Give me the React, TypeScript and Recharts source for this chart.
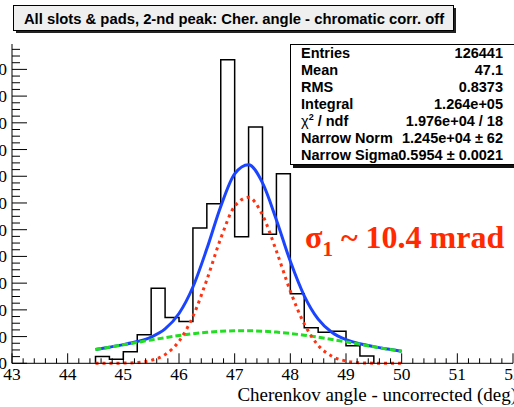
import { ComposedChart, Line, XAxis, YAxis } from "recharts";

// histogram bins (low edge, deg) and counts
const binLow = [44.5, 44.75, 45, 45.25, 45.5, 45.75, 46, 46.25, 46.5, 46.75, 47, 47.25, 47.5, 47.75, 48, 48.25, 48.5, 48.75, 49, 49.25];
const binCounts = [500, 300, 860, 2140, 5620, 3420, 3120, 10120, 11940, 22720, 9480, 17680, 9660, 14180, 5200, 2660, 2320, 2400, 1320, 540];
const binEnd = 49.5;

// fit curves
const fitX = [44.5, 44.75, 45, 45.25, 45.5, 45.75, 46, 46.25, 46.5, 46.75, 47, 47.25, 47.5, 47.75, 48, 48.25, 48.5, 48.75, 49, 49.25, 49.5, 49.75, 50];
const totalFit = [1032, 1208, 1399, 1628, 1963, 2569, 3725, 5709, 8567, 11743, 14183, 14857, 13504, 10735, 7633, 5054, 3302, 2303, 1774, 1466, 1250, 1068, 902];
const narrowFit = [0, 3, 14, 60, 215, 650, 1650, 3500, 6250, 9350, 11750, 12420, 11100, 8400, 5400, 2950, 1350, 520, 170, 45, 10, 2, 0];
const broadFit = [1032, 1205, 1385, 1568, 1748, 1919, 2075, 2209, 2317, 2393, 2433, 2437, 2404, 2335, 2233, 2104, 1952, 1783, 1604, 1421, 1240, 1066, 902];

const xMajor = [43, 44, 45, 46, 47, 48, 49, 50, 51, 52];
const yMajor = [0, 2000, 4000, 6000, 8000, 10000, 12000, 14000, 16000, 18000, 20000, 22000];
const yMax = 23900;

const statRows = [
  ["Entries", "126441"],
  ["Mean", "47.1"],
  ["RMS", "0.8373"],
  ["Integral", "1.264e+05"],
  ["chi2", "1.976e+04 / 18"],
  ["Narrow Norm", "1.245e+04 \u00b1 62"],
  ["Narrow Sigma", "0.5954 \u00b1 0.0021"],
];

const title = "All slots & pads, 2-nd peak: Cher. angle - chromatic corr. off";
const xTitle = "Cherenkov angle - uncorrected (deg)";

// minor ticks: 5 per degree, 4 per 2000
const xTicks: number[] = [];
xMajor.forEach((m, i) => {
  xTicks.push(m);
  if (i < xMajor.length - 1) for (let k = 1; k < 5; k++) xTicks.push(Math.round((m + k * 0.2) * 10) / 10);
});
const yTicks: number[] = [];
yMajor.forEach((m) => {
  for (let k = 0; k < 4; k++) {
    const v = m + k * 500;
    if (v < yMax) yTicks.push(v);
  }
});

const histData = [
  { x: binLow[0], y: 0 },
  ...binLow.map((x, i) => ({ x, y: binCounts[i] })),
  { x: binEnd, y: 0 },
];
const totalData = fitX.map((x, i) => ({ x, y: totalFit[i] }));
const narrowData = fitX.map((x, i) => ({ x, y: narrowFit[i] }));
const broadData = fitX.map((x, i) => ({ x, y: broadFit[i] }));

const SERIF = "'Liberation Serif', 'Times New Roman', serif";
const SANS = "'Liberation Sans', Arial, sans-serif";

const isMajorX = (v: number) => Math.abs(v - Math.round(v)) < 1e-6;
const isMajorY = (v: number) => v % 2000 === 0;

const BottomTick = ({ x, y, payload }: any) => {
  const major = isMajorX(payload.value);
  return (
    <g>
      <line x1={x} x2={x} y1={y} y2={y - (major ? 10 : 5)} stroke="#000" />
      {major && (
        <text x={x} y={y + 17} textAnchor="middle" fontFamily={SERIF} fontSize={17.5} fill="#000">
          {payload.value}
        </text>
      )}
    </g>
  );
};

const TopTick = ({ x, y, payload }: any) => {
  const major = isMajorX(payload.value);
  return <line x1={x} x2={x} y1={y} y2={y + (major ? 10 : 5)} stroke="#000" />;
};

const LeftTick = ({ x, y, payload }: any) => {
  const major = isMajorY(payload.value);
  return (
    <g>
      <line x1={x} x2={x + (major ? 15 : 8)} y1={y} y2={y} stroke="#000" />
      {major && (
        <text x={x - 5} y={y + 6} textAnchor="end" fontFamily={SERIF} fontSize={17.5} fill="#000">
          {payload.value}
        </text>
      )}
    </g>
  );
};

const RightTick = ({ x, y, payload }: any) => {
  const major = isMajorY(payload.value);
  return <line x1={x} x2={x - (major ? 15 : 8)} y1={y} y2={y} stroke="#000" />;
};

export default function App() {
  return (
    <div style={{ position: "absolute", left: 0, top: 0, width: 514, height: 407, overflow: "hidden", background: "#fff" }}>
      <div style={{ position: "absolute", left: -60, top: 0 }}>
        <ComposedChart width={574} height={407} margin={{ top: 44, right: 1, bottom: 0, left: 0 }}>
          <XAxis
            dataKey="x"
            type="number"
            domain={[43, 52]}
            ticks={xTicks}
            interval={0}
            height={43.7}
            tickSize={0}
            tickMargin={0}
            tickLine={false}
            axisLine={{ stroke: "#000" }}
            tick={<BottomTick />}
            label={{ value: xTitle, position: "insideBottomRight", offset: 6, dx: 10, fontFamily: SERIF, fontSize: 19, fill: "#000" }}
          />
          <XAxis
            xAxisId="top"
            orientation="top"
            dataKey="x"
            type="number"
            domain={[43, 52]}
            ticks={xTicks}
            interval={0}
            height={0}
            tickSize={0}
            tickMargin={0}
            tickLine={false}
            axisLine={{ stroke: "#000" }}
            tick={<TopTick />}
          />
          <YAxis
            type="number"
            domain={[0, yMax]}
            ticks={yTicks}
            interval={0}
            width={72}
            tickSize={0}
            tickMargin={0}
            tickLine={false}
            axisLine={{ stroke: "#000" }}
            tick={<LeftTick />}
          />
          <YAxis
            yAxisId="right"
            orientation="right"
            type="number"
            domain={[0, yMax]}
            ticks={yTicks}
            interval={0}
            width={0}
            tickSize={0}
            tickMargin={0}
            tickLine={false}
            axisLine={{ stroke: "#000" }}
            tick={<RightTick />}
          />
          <Line data={histData} dataKey="y" type="stepAfter" stroke="#000" strokeWidth={1.5} dot={false} activeDot={false} isAnimationActive={false} />
          <Line data={totalData} dataKey="y" type="monotone" stroke="#1a44ff" strokeWidth={3} dot={false} activeDot={false} isAnimationActive={false} />
          <Line data={broadData} dataKey="y" type="monotone" stroke="#22dd22" strokeWidth={3} strokeDasharray="6 3" dot={false} activeDot={false} isAnimationActive={false} />
          <Line data={narrowData} dataKey="y" type="monotone" stroke="#ff3311" strokeWidth={3} strokeDasharray="3 4" dot={false} activeDot={false} isAnimationActive={false} />
        </ComposedChart>
      </div>
      <svg width={514} height={407} style={{ position: "absolute", left: 0, top: 0, pointerEvents: "none" }}>
        {/* title box */}
        <rect x={16} y={8} width={440} height={25} fill="#222" />
        <rect x={13.5} y={5.5} width={440} height={25} fill="#efefef" stroke="#000" />
        <text x={234} y={23.5} textAnchor="middle" fontFamily={SANS} fontWeight="bold" fontSize={14.8} fill="#000">
          {title}
        </text>
        {/* stats box */}
        <rect x={293} y={47} width={230} height={121} fill="#111" />
        <rect x={290.5} y={44.5} width={230} height={120} fill="#fff" stroke="#000" />
        {statRows.map(([k, v], i) => (
          <g key={k}>
            <text x={301} y={57.7 + i * 17} fontFamily={SANS} fontWeight="bold" fontSize={14.5} fill="#000">
              {k === "chi2" ? (
                <>
                  <tspan fontWeight="normal">{"\u03c7"}</tspan>
                  <tspan fontSize={9} dy={-6}>2</tspan>
                  <tspan dy={6}>{" / ndf"}</tspan>
                </>
              ) : (
                k
              )}
            </text>
            <text x={503} y={57.7 + i * 17} textAnchor="end" fontFamily={SANS} fontWeight="bold" fontSize={14.5} fill="#000">
              {v}
            </text>
          </g>
        ))}
        {/* annotation */}
        <text x={305} y={248} fontFamily={SERIF} fontWeight="bold" fontSize={32} fill="#ff2a00">
          <tspan>{"\u03c3"}</tspan>
          <tspan fontSize={21} dy={8}>1</tspan>
          <tspan dy={-8}>{" ~ 10.4 mrad"}</tspan>
        </text>
      </svg>
    </div>
  );
}
